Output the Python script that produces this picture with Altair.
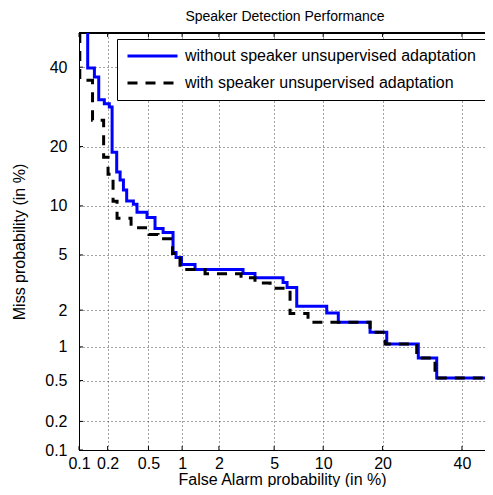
import altair as alt
import pandas as pd
from statistics import NormalDist

nd = NormalDist()

# Chart title and series names
chart_title = "Speaker Detection Performance"
series_names = ["without speaker unsupervised adaptation", "with speaker unsupervised adaptation"]

# DET step points: false alarm (%) and miss (%) -- step-before corners
without_fa = [0.124, 0.146, 0.162, 0.185, 0.208, 0.222, 0.247, 0.267, 0.288, 0.310,
              0.360, 0.390, 0.485, 0.575, 0.681, 0.834, 0.886, 0.988, 1.285, 3.038,
              3.70, 5.72, 6.07, 6.98, 10.47, 12.11, 17.51, 20.88, 28.2, 32.98, 50]
without_miss = [50, 39.76, 37.21, 31.03, 29.99, 29.15, 18.85, 15.16, 13.81, 12.23,
                10.65, 10.21, 9.19, 8.59, 7.38, 6.97, 5.19, 4.81, 4.31, 3.98,
                3.73, 3.48, 3.22, 2.96, 2.14, 1.90, 1.60, 1.33, 1.06, 0.80, 0.528]

with_fa = [0.102, 0.1395, 0.182, 0.202, 0.227, 0.249, 0.342, 0.506, 0.613, 0.826,
           0.959, 1.552, 2.938, 3.70, 4.70, 6.34, 8.17, 17.51, 20.52, 27.81, 32.53, 50]
with_miss = [50, 36.29, 25.92, 17.86, 14.76, 10.61, 8.48, 7.45, 6.78, 6.37,
             5.11, 3.98, 3.72, 3.48, 3.20, 2.93, 1.88, 1.60, 1.33, 1.06, 0.80, 0.528]

# Tick values (in %) and labels
tick_pct = [0.1, 0.2, 0.5, 1, 2, 5, 10, 20, 40]
tick_labels = ["0.1", "0.2", "0.5", "1", "2", "5", "10", "20", "40"]

W, H = 406, 417
zmin = nd.inv_cdf(0.001)
x_dom = [zmin, zmin + W / 135.0]
y_dom = [zmin, 0.0]

tick_z = [nd.inv_cdf(p / 100.0) for p in tick_pct]


def label_expr(zs, labels):
    expr = "'" + labels[-1] + "'"
    for i in range(len(zs) - 2, -1, -1):
        mid = (zs[i] + zs[i + 1]) / 2
        expr = f"datum.value < {mid:.4f} ? '{labels[i]}' : ({expr})"
    return expr


lab_expr = label_expr(tick_z, tick_labels)

rows = []
for i, (f, m) in enumerate(zip(without_fa, without_miss)):
    rows.append({"series": series_names[0], "fa": f, "miss": m, "idx": i})
for i, (f, m) in enumerate(zip(with_fa, with_miss)):
    rows.append({"series": series_names[1], "fa": f, "miss": m, "idx": i})
df = pd.DataFrame(rows)

ticks_df = pd.DataFrame({"pct": tick_pct})

FONT = "Liberation Sans"

xscale = alt.Scale(domain=x_dom, nice=False, zero=False)
yscale = alt.Scale(domain=y_dom, nice=False, zero=False)

xaxis = alt.Axis(values=tick_z, labelExpr=lab_expr, grid=True, ticks=False, domain=True,
                 labelPadding=5, title="False Alarm probability (in %)",
                 titleBaseline="alphabetic", titleY=34, labelFlush=False, labelOverlap=False)
yaxis = alt.Axis(values=tick_z, labelExpr=lab_expr, grid=True, ticks=False, domain=True,
                 labelPadding=12, title="Miss probability (in %)",
                 titleX=-52, titleY=H / 2, labelFlush=False, labelOverlap=False)

cscale = alt.Scale(domain=series_names, range=["#0000ff", "#000000"])
dscale = alt.Scale(domain=series_names, range=[[1, 0], [10, 8]])

leg = alt.Legend(orient="none", legendX=38, legendY=6, fillColor="white", strokeColor="black",
                 padding=9, labelFontSize=16, labelFont=FONT, labelColor="black",
                 labelLimit=500, symbolType="stroke", symbolStrokeWidth=3, symbolSize=2500,
                 rowPadding=11, labelOffset=6, clipHeight=16, title=None)

base = alt.Chart(df).transform_calculate(
    zx="quantileNormal(datum.fa / 100)",
    zy="quantileNormal(datum.miss / 100)",
)


def curve(name, width):
    return base.transform_filter(alt.datum.series == name).mark_line(
        interpolate="step-before", strokeWidth=width, clip=True
    ).encode(
        x=alt.X("zx:Q", scale=xscale, axis=xaxis),
        y=alt.Y("zy:Q", scale=yscale, axis=yaxis),
        color=alt.Color("series:N", scale=cscale, legend=leg),
        strokeDash=alt.StrokeDash("series:N", scale=dscale, legend=leg),
        order=alt.Order("idx:Q"),
    )


tbase = alt.Chart(ticks_df).transform_calculate(z="quantileNormal(datum.pct / 100)")
top_ticks = tbase.mark_rule(color="black", strokeWidth=1).encode(
    x=alt.X("z:Q", scale=xscale, axis=xaxis), y=alt.value(0), y2=alt.value(4))
bot_ticks = tbase.mark_rule(color="black", strokeWidth=1).encode(
    x=alt.X("z:Q", scale=xscale, axis=xaxis), y=alt.value(H - 4), y2=alt.value(H))
left_ticks = tbase.mark_rule(color="black", strokeWidth=1).encode(
    y=alt.Y("z:Q", scale=yscale, axis=yaxis), x=alt.value(0), x2=alt.value(4))
top_border = tbase.mark_rule(color="black", strokeWidth=1).encode(
    x=alt.value(0), x2=alt.value(W), y=alt.value(0))

title_mark = alt.Chart(pd.DataFrame({"t": [chart_title]})).mark_text(
    font=FONT, fontSize=14, color="black", align="center", baseline="alphabetic"
).encode(x=alt.value(206), y=alt.value(-12), text="t:N")

chart = alt.layer(
    top_border, top_ticks, bot_ticks, left_ticks,
    curve(series_names[0], 3),
    curve(series_names[1], 3),
    title_mark,
).properties(
    width=W, height=H,
    autosize=alt.AutoSizeParams(type="none"),
    padding={"left": 71, "top": 25, "right": 0, "bottom": 37},
).configure_view(
    stroke=None
).configure_axis(
    labelFont=FONT, labelFontSize=16, labelColor="black",
    titleFont=FONT, titleFontSize=16, titleFontWeight="normal", titleColor="black",
    domainColor="black", domainWidth=1,
    gridColor="#333333", gridDash=[1, 3], gridWidth=1, gridOpacity=0.9,
)

chart.save("out.html", embed_options={"renderer": "svg", "actions": False})
